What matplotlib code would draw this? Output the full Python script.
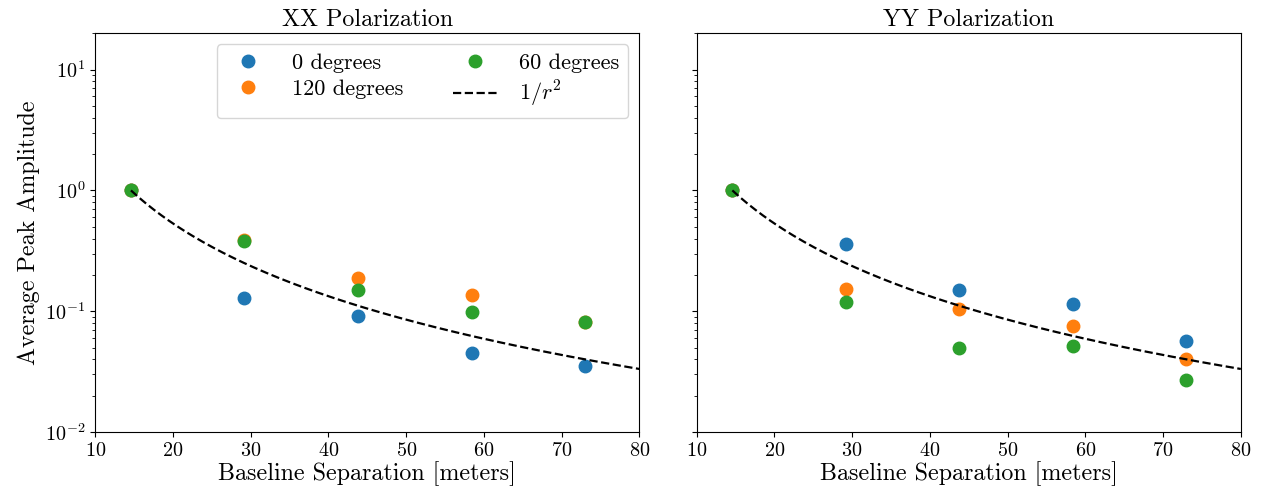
import numpy as np
import matplotlib
matplotlib.use("Agg")
import matplotlib.pyplot as plt

plt.rcParams["font.family"] = "serif"
plt.rcParams["font.serif"] = ["cmr10", "DejaVu Serif"]
plt.rcParams["mathtext.fontset"] = "cm"
plt.rcParams["axes.formatter.use_mathtext"] = True

# Baseline separations (meters)
sep = [14.6, 29.2, 43.8, 58.4, 73.0]

# XX polarization amplitudes
xx_0 = [1.0, 0.13, 0.092, 0.0455, 0.035]
xx_120 = [1.0, 0.39, 0.187, 0.137, 0.082]
xx_60 = [1.0, 0.38, 0.151, 0.098, 0.081]

# YY polarization amplitudes
yy_0 = [1.0, 0.357, 0.151, 0.114, 0.057]
yy_120 = [1.0, 0.154, 0.105, 0.076, 0.0405]
yy_60 = [1.0, 0.12, 0.050, 0.052, 0.027]

labels = ["0 degrees", "120 degrees", "60 degrees"]
colors = ["#1f77b4", "#ff7f0e", "#2ca02c"]

r = np.linspace(sep[0], 80, 200)
model = (sep[0] / r) ** 2

fig, axes = plt.subplots(1, 2, figsize=(12.61, 4.95), dpi=100, sharey=True)
fig.subplots_adjust(left=0.0755, right=0.984, top=0.933, bottom=0.127, wspace=0.105)

data = [(xx_0, xx_120, xx_60), (yy_0, yy_120, yy_60)]
titles = ["XX Polarization", "YY Polarization"]

for ax, series, title in zip(axes, data, titles):
    for vals, lab, c in zip(series, labels, colors):
        ax.plot(sep, vals, "o", color=c, ms=9, label=lab)
    ax.plot(r, model, "--", color="black", lw=1.6, label=r"$1/r^2$")
    ax.set_yscale("log")
    ax.set_ylim(0.01, 20)
    ax.set_xlim(10, 80)
    ax.set_title(title, fontsize=17.3, pad=5)
    ax.set_xlabel("Baseline Separation [meters]", fontsize=17.3, labelpad=1)
    ax.tick_params(labelsize=14.5)

axes[0].set_ylabel("Average Peak Amplitude", fontsize=17.3)
axes[0].legend(loc="upper right", ncol=2, fontsize=16, borderaxespad=0.5,
               columnspacing=2.2, handletextpad=1.0, labelspacing=0.3)

plt.savefig("out.png", dpi=100)
